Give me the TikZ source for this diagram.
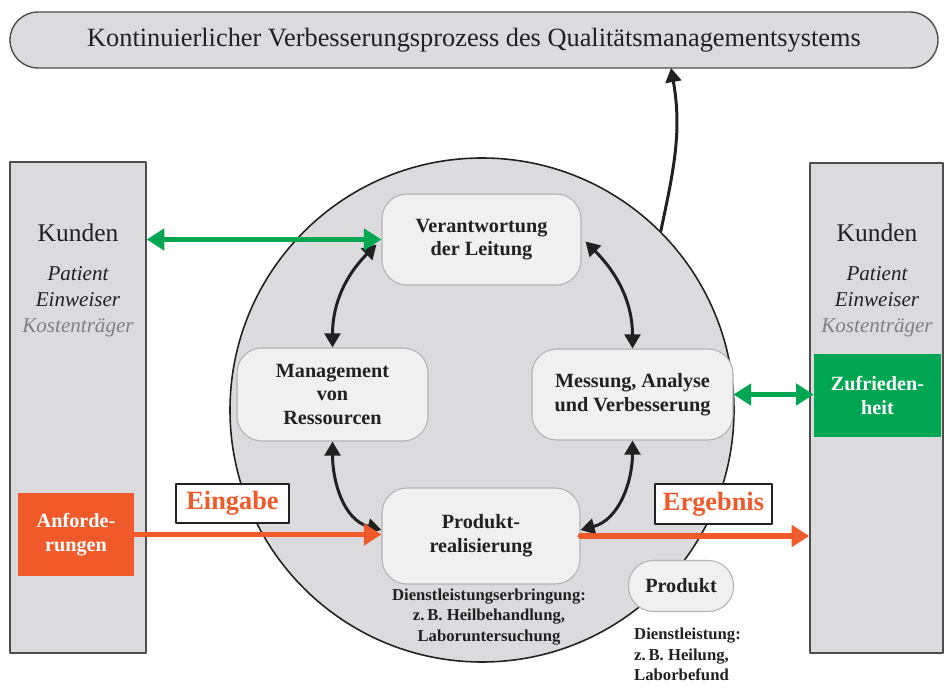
\documentclass[tikz,border=0pt]{standalone}
\usepackage{fontspec}
\setmainfont{Liberation Serif}
\usetikzlibrary{arrows.meta,calc}
\definecolor{ffzzqq}{rgb}{0.94,0.35,0.16}
\definecolor{qqzzqq}{rgb}{0,0.65,0.32}
\definecolor{dcdcdc}{rgb}{0.86,0.86,0.87}
\definecolor{sqsqsq}{rgb}{0.94,0.94,0.94}
\definecolor{wqwqwq}{rgb}{0.13,0.13,0.13}
\definecolor{bfbfbf}{rgb}{0.7,0.7,0.7}
\definecolor{vvvvvv}{rgb}{0.5,0.5,0.5}
\newcommand{\pxu}{0.02cm}

\begin{document}
\begin{tikzpicture}[line cap=round,line join=round,>={Triangle[length=8pt,width=9pt]},x=0.02cm,y=0.02cm,
  kasten/.style={draw=wqwqwq!80,fill=dcdcdc,line width=0.8pt},
  prozess/.style={draw=bfbfbf,fill=sqsqsq,rounded corners=0.5cm,align=center,text=wqwqwq,line width=0.6pt,font=\bfseries\fontsize{11.5}{13.5}\selectfont},
  feld/.style={text=white,align=center,font=\bfseries\fontsize{11.5}{13.5}\selectfont},
  etikett/.style={draw=wqwqwq,fill=white,line width=0.8pt,text=ffzzqq,font=\bfseries\fontsize{15}{17}\selectfont},
  wechsel/.style={<->,line width=1.7pt,color=wqwqwq},
  gruen/.style={{Triangle[length=10pt,width=12pt]}-{Triangle[length=10pt,width=12pt]},line width=3pt,color=qqzzqq},
  fluss/.style={-{Triangle[length=10pt,width=12pt]},line width=3.2pt,color=ffzzqq}]

\useasboundingbox (0,0) rectangle (944,694);

\node[kasten,rounded corners=0.56cm,minimum width=928*\pxu,minimum height=56*\pxu,text=wqwqwq,font=\fontsize{15}{17}\selectfont] (kvp) at (474,654) {Kontinuierlicher Verbesserungsprozess des Qualitätsmanagementsystems};
\node[kasten,minimum width=136*\pxu,minimum height=491*\pxu] (kl) at (78,286.5) {};
\node[kasten,minimum width=133*\pxu,minimum height=490*\pxu] (kr) at (876.5,286) {};
\node[circle,draw=wqwqwq,fill=dcdcdc,line width=0.9pt,minimum size=504*\pxu,inner sep=0pt] (kreis) at (482,284) {};

% Prozesse
\node[prozess,minimum width=199*\pxu,minimum height=91*\pxu] (vl) at (481.5,454.5) {Verantwortung\\der Leitung};
\node[prozess,minimum width=191*\pxu,minimum height=93*\pxu] (mr) at (332.5,299.5) {Management\\von\\Ressourcen};
\node[prozess,minimum width=201*\pxu,minimum height=91*\pxu] (mav) at (632.5,299.5) {Messung, Analyse\\und Verbesserung};
\node[prozess,minimum width=198*\pxu,minimum height=96*\pxu] (pr) at (481,158) {Produkt-\\realisierung};
\node[prozess,minimum width=105*\pxu,minimum height=51*\pxu] (prod) at (681,108) {Produkt};

% Kunden
\begin{scope}[text=wqwqwq]
\node[font=\fontsize{14.5}{16}\selectfont] (kunl) at (78,461) {Kunden};
\node[font=\itshape\fontsize{12}{14}\selectfont] (patl) at (78,420) {Patient};
\node[font=\itshape\fontsize{12}{14}\selectfont] (einl) at (78,394) {Einweiser};
\node[font=\itshape\fontsize{12}{14}\selectfont,text=vvvvvv] (kosl) at (78,366) {Kostenträger};
\node[font=\fontsize{14.5}{16}\selectfont] (kunr) at (877,461) {Kunden};
\node[font=\itshape\fontsize{12}{14}\selectfont] (patr) at (877,420) {Patient};
\node[font=\itshape\fontsize{12}{14}\selectfont] (einr) at (877,394) {Einweiser};
\node[font=\itshape\fontsize{12}{14}\selectfont,text=vvvvvv] (kosr) at (877,366) {Kostenträger};
\end{scope}

\node[feld,fill=ffzzqq,minimum width=116*\pxu,minimum height=83*\pxu] (anf) at (76,159.5) {Anforde-\\rungen};
\node[feld,fill=qqzzqq,minimum width=127*\pxu,minimum height=83*\pxu] (zuf) at (877.5,298.5) {Zufrieden-\\heit};
\node[etikett,minimum width=113*\pxu,minimum height=39*\pxu] (eing) at (232.5,190.5) {Eingabe};
\node[etikett,minimum width=117*\pxu,minimum height=40*\pxu] (erg) at (713.5,190) {Ergebnis};

\begin{scope}[text=wqwqwq,font=\bfseries\fontsize{9.5}{11.5}\selectfont]
\node[align=center] (dlb) at (489,77) {Dienstleistungserbringung:\\z.\,B. Heilbehandlung,\\Laboruntersuchung};
\node[align=left,anchor=west] (dlp) at (628,39.5) {Dienstleistung:\\z.\,B. Heilung,\\Laborbefund};
\end{scope}

% Pfeile
\coordinate (kvpfuss) at (671,626);
\draw[->,line width=1.7pt,color=wqwqwq] (kreis.45) to[out=78,in=-80] (kvpfuss);
\draw[wechsel] (mr.north) to[out=90,in=225] ($(vl.west)+(-5,-5)$);
\draw[wechsel] (mav.north) to[out=90,in=-45] ($(vl.east)+(4,-2)$);
\draw[wechsel] (mr.south) to[out=-90,in=165] ($(pr.west)+(0,6)$);
\draw[wechsel] (mav.south) to[out=-90,in=15] ($(pr.east)+(0,6)$);
\draw[gruen] (kl.east |- vl.west) -- (vl.west);
\draw[gruen] (mav.east) -- (mav.east -| zuf.west);
\draw[fluss] (anf.east) -- (anf.east -| pr.west);
\draw[fluss] (pr.east) -- (pr.east -| kr.west);

\end{tikzpicture}
\end{document}
